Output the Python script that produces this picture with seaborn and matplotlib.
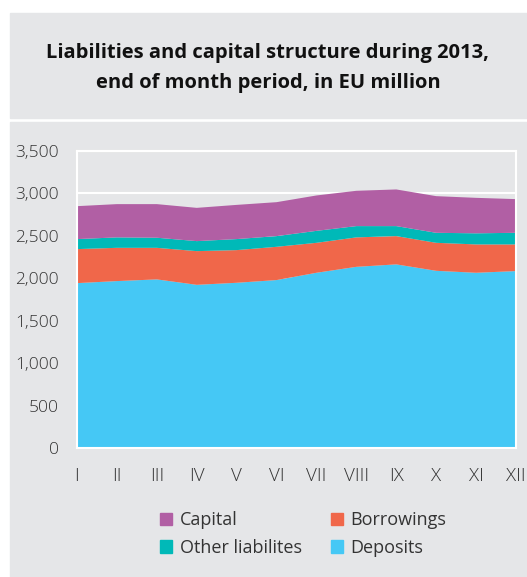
import matplotlib
matplotlib.use("Agg")
import matplotlib.pyplot as plt
from matplotlib.patches import Rectangle, Patch
import seaborn as sns
import pandas as pd

# Monthly end-of-period balances, EU million
months = ["I", "II", "III", "IV", "V", "VI", "VII", "VIII", "IX", "X", "XI", "XII"]
deposits = [1943, 1967, 1987, 1923, 1947, 1979, 2065, 2135, 2164, 2088, 2065, 2085]
borrowings = [401, 392, 372, 397, 385, 392, 353, 347, 333, 330, 334, 314]
other_liabilities = [118, 123, 119, 118, 130, 126, 141, 133, 118, 118, 131, 137]
capital = [388, 392, 396, 392, 403, 400, 417, 416, 432, 432, 418, 397]

series_names = ["Deposits", "Borrowings", "Other liabilites", "Capital"]
colors = {"Deposits": "#45C8F5", "Borrowings": "#F0674A",
          "Other liabilites": "#00B9B8", "Capital": "#B15FA4"}

df = pd.DataFrame({"month": months, "Deposits": deposits, "Borrowings": borrowings,
                   "Other liabilites": other_liabilities, "Capital": capital})

bg = "#E5E6E8"
sns.set_theme(style="white")
plt.rcParams["font.family"] = ["Open Sans", "DejaVu Sans"]

fig = plt.figure(figsize=(5.27, 5.77), dpi=100)
fig.patch.set_facecolor("white")
W, H = 527, 577
# title panel and chart panel
fig.patches.append(Rectangle((10 / W, 1 - 118 / H), 517 / W, 105 / H,
                             transform=fig.transFigure, color=bg, zorder=-5))
fig.patches.append(Rectangle((10 / W, 0), 517 / W, 1 - 122 / H,
                             transform=fig.transFigure, color=bg, zorder=-5))

fig.text(268 / W, 1 - 68 / H, "Liabilities and capital structure during 2013,\nend of month period, in EU million",
         ha="center", va="center", fontsize=14.5, fontweight="bold", color="#111111",
         linespacing=1.65)

ax = fig.add_axes([77 / W, 1 - 448 / H, (516 - 77) / W, (448 - 151) / H])
ax.set_zorder(2)
ax.set_facecolor(bg)

x = list(range(len(months)))
ax.stackplot(x, *[df[s] for s in series_names], colors=[colors[s] for s in series_names],
             edgecolor="none", zorder=2)

ax.set_xlim(0, len(months) - 1)
ax.set_ylim(0, 3500)
ax.set_yticks(range(0, 3501, 500))
ax.set_yticklabels([f"{v:,}" for v in range(0, 3501, 500)])
ax.set_xticks(x)
ax.set_xticklabels(months)

ax.yaxis.grid(True, color="white", linewidth=1.5, zorder=1)
ax.set_axisbelow(True)
for side in ["left", "right", "top", "bottom"]:
    ax.spines[side].set_visible(True)
    ax.spines[side].set_color("white")
    ax.spines[side].set_linewidth(1.5)
ax.spines["bottom"].set_zorder(3)

ax.tick_params(axis="both", colors="white", width=1.5, labelcolor="#333333",
               labelsize=12.5, direction="out")
ax.tick_params(axis="x", length=8, pad=6, labelsize=13.5)
ax.tick_params(axis="y", length=7, pad=6)
for lab in ax.get_xticklabels() + ax.get_yticklabels():
    lab.set_fontweight("light")

handles = [Patch(color=colors[s], label=s) for s in ["Capital", "Other liabilites", "Borrowings", "Deposits"]]
leg = fig.legend(handles=handles, ncol=2, loc="center", bbox_to_anchor=(303 / W, 1 - 534 / H),
                 frameon=False, fontsize=13, handlelength=0.7, handleheight=0.7,
                 handletextpad=0.4, columnspacing=1.6, labelspacing=0.5, labelcolor="#333333")
leg.set_zorder(3)

fig.savefig("out.png", dpi=100, facecolor="white")
